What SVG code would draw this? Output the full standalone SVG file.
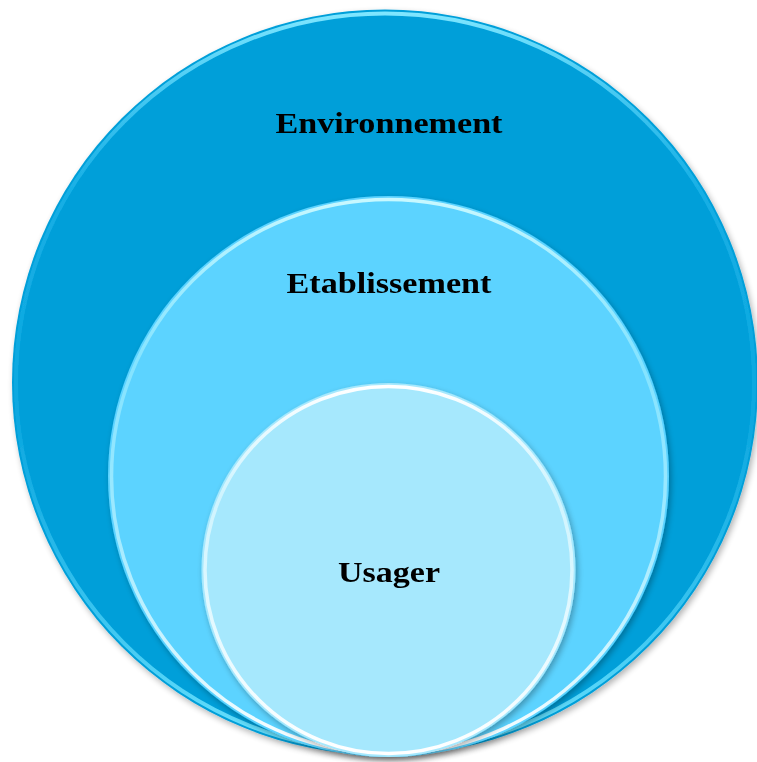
<svg xmlns="http://www.w3.org/2000/svg" width="757" height="762" viewBox="0 0 757 762">
<defs>
<linearGradient id="rimO" x1="0" y1="0" x2="0" y2="1"><stop offset="0" stop-color="#7fe6ff" stop-opacity="1"/><stop offset="0.25" stop-color="#2bbdf0" stop-opacity="0.5"/><stop offset="0.55" stop-color="#2bbdf0" stop-opacity="0.3"/><stop offset="1" stop-color="#6fe4ff" stop-opacity="1"/></linearGradient>
<linearGradient id="rimM" x1="0" y1="0" x2="0" y2="1"><stop offset="0" stop-color="#c8f8ff" stop-opacity="1"/><stop offset="0.3" stop-color="#9eeeff" stop-opacity="0.6"/><stop offset="0.6" stop-color="#c0f4ff" stop-opacity="0.7"/><stop offset="1" stop-color="#ffffff" stop-opacity="1"/></linearGradient>
<linearGradient id="rimI" x1="0" y1="0" x2="0" y2="1"><stop offset="0" stop-color="#ffffff" stop-opacity="1"/><stop offset="0.3" stop-color="#e0f9ff" stop-opacity="0.7"/><stop offset="1" stop-color="#ffffff" stop-opacity="1"/></linearGradient>
<filter id="sh" x="-10%" y="-10%" width="120%" height="120%"><feGaussianBlur in="SourceAlpha" stdDeviation="3"/><feOffset dx="2" dy="3"/><feComponentTransfer><feFuncA type="linear" slope="0.3"/></feComponentTransfer><feMerge><feMergeNode/><feMergeNode in="SourceGraphic"/></feMerge></filter>
</defs>
<style>
.lbl{font-family:"Liberation Serif","DejaVu Serif",serif;font-weight:bold;font-size:29px;fill:#000;text-anchor:middle}
</style>
<rect width="757" height="762" fill="#fff"/>
<g id="environnement" filter="url(#sh)">
<circle cx="385" cy="382.5" r="373" fill="#009fd9"/>
<circle cx="385" cy="382.5" r="369" fill="none" stroke="url(#rimO)" stroke-width="4"/>
<text class="lbl" x="389" y="133" textLength="227" lengthAdjust="spacingAndGlyphs">Environnement</text>
</g>
<g id="etablissement" filter="url(#sh)">
<circle cx="388.5" cy="476.5" r="280.5" fill="#5cd3ff"/>
<circle cx="388.5" cy="476.5" r="277" fill="none" stroke="url(#rimM)" stroke-width="3.5"/>
<text class="lbl" x="389" y="293" textLength="205" lengthAdjust="spacingAndGlyphs">Etablissement</text>
</g>
<g id="usager" filter="url(#sh)">
<circle cx="388.5" cy="570" r="187" fill="#a6e8fd"/>
<circle cx="388.5" cy="570" r="183.5" fill="none" stroke="url(#rimI)" stroke-width="3.5"/>
<text class="lbl" x="389" y="582" textLength="102" lengthAdjust="spacingAndGlyphs">Usager</text>
</g>
<g id="connectors"/>
</svg>
